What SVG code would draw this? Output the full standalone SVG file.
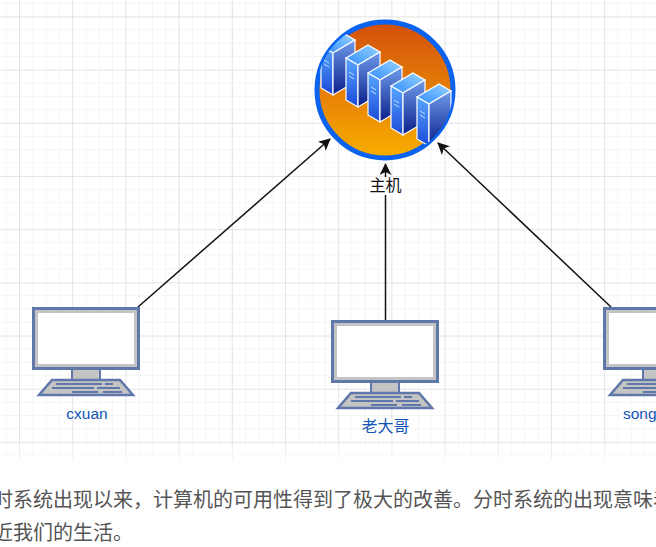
<svg xmlns="http://www.w3.org/2000/svg" xmlns:xlink="http://www.w3.org/1999/xlink" width="656" height="547" viewBox="0 0 656 547">
<style>
.lb{font-family:"Liberation Sans",Arial,sans-serif;font-size:15.5px;fill:#0f55b5;text-anchor:middle}
.cj{font-family:"Noto Sans CJK SC","Liberation Sans",sans-serif}
.body{font-family:"Noto Sans CJK SC",sans-serif;font-size:20px;fill:#555}
.edge{fill:none;stroke:#111;stroke-width:1.5}
</style>
<defs>
<pattern id="gm" width="13.3" height="13.3" patternUnits="userSpaceOnUse" x="5.7" y="2.7"><path d="M13.3 0H0V13.3" fill="none" stroke="#ececec" stroke-width="1"/></pattern>
<pattern id="gM" width="53.2" height="53.2" patternUnits="userSpaceOnUse" x="19" y="16.5"><path d="M53.2 0H0V53.2" fill="none" stroke="#d3d3d3" stroke-width="1"/></pattern>
<linearGradient id="fade" x1="0" y1="0" x2="0" y2="1"><stop offset="0" stop-color="#fff" stop-opacity="0"/><stop offset="1" stop-color="#fff"/></linearGradient>
<linearGradient id="ball" x1="0" y1="0" x2="0" y2="1"><stop offset="0" stop-color="#d24f0c"/><stop offset="1" stop-color="#f9ae00"/></linearGradient>
<linearGradient id="fr" x1="0" y1="0" x2="0" y2="1"><stop offset="0" stop-color="#58a6ff"/><stop offset="1" stop-color="#1b49d8"/></linearGradient>
<linearGradient id="sd" x1="0" y1="0" x2="0" y2="1"><stop offset="0" stop-color="#6f9bea"/><stop offset="1" stop-color="#0a1f8a"/></linearGradient>
<linearGradient id="tp" x1="0" y1="1" x2="1" y2="0"><stop offset="0" stop-color="#2f8cff"/><stop offset="1" stop-color="#9bd4ff"/></linearGradient>
<marker id="ah" markerWidth="13" markerHeight="12" refX="11" refY="6" orient="auto" markerUnits="userSpaceOnUse"><path d="M0 0L12 6L0 12L3 6Z" fill="#111"/></marker>
<clipPath id="cc"><circle cx="385" cy="90" r="68"/></clipPath>
<g id="srv">
<path d="M0 13L22 0L34 7L12 20Z" fill="url(#tp)" stroke="#fff" stroke-width="1.2"/>
<path d="M0 13L12 20V62L0 55Z" fill="url(#fr)" stroke="#fff" stroke-width="1.2"/>
<path d="M12 20L34 7V49L12 62Z" fill="url(#sd)" stroke="#fff" stroke-width="1.2"/>
<path d="M3 27L8 30M3 31L8 34" stroke="#bfe0ff" stroke-width="1"/>
</g>
<g id="pc">
<rect x="1.5" y="1.5" width="105" height="60" fill="#c4c4c4" stroke="#6077aa" stroke-width="3"/>
<rect x="6" y="6" width="96" height="51" fill="#fff"/>
<rect x="40" y="62" width="28" height="11" fill="#c4c4c4" stroke="#6077aa" stroke-width="2"/>
<path d="M20 73H88L101 88H7Z" fill="#c4c4c4" stroke="#6077aa" stroke-width="2.5"/>
<path d="M24 77H70M73 77H81M20 81H62M65 81H88M40 85H66M71 85H90" stroke="#6077aa" stroke-width="2.2" fill="none"/>
</g>
</defs>
<rect width="656" height="547" fill="#fff"/>
<g id="grid">
<rect width="656" height="460" fill="url(#gm)"/>
<rect width="656" height="460" fill="url(#gM)"/>
<rect y="436" width="656" height="24" fill="url(#fade)" opacity=".6"/>
</g>
<g id="connectors">
<path class="edge" d="M138 307L330 139" marker-end="url(#ah)"/>
<path class="edge" d="M385.500 321V164" marker-end="url(#ah)"/>
<path class="edge" d="M611 307L438 143" marker-end="url(#ah)"/>
</g>
<g id="host">
<circle cx="385" cy="90" r="68" fill="url(#ball)" stroke="#0b62ef" stroke-width="5"/>
<g clip-path="url(#cc)">
<use xlink:href="#srv" x="321" y="33"/>
<use xlink:href="#srv" x="346" y="45"/>
<use xlink:href="#srv" x="368" y="60"/>
<use xlink:href="#srv" x="391" y="73"/>
<use xlink:href="#srv" x="417" y="84"/>
</g>
<rect x="370" y="177" width="31" height="18" fill="#fff"/>
<text x="385.500" y="191" class="cj" font-size="16" fill="#111" text-anchor="middle">主机</text>
</g>
<g id="cxuan"><use xlink:href="#pc" x="32" y="307"/><text x="87" y="419" class="lb">cxuan</text></g>
<g id="laodage"><use xlink:href="#pc" x="331" y="320"/><text x="385.500" y="432" class="lb cj" style="font-size:16px">老大哥</text></g>
<g id="song"><use xlink:href="#pc" x="603" y="307"/><text x="623" y="419" class="lb" style="text-anchor:start">song</text></g>
<text class="body" x="-7" y="507">时系统出现以来，计算机的可用性得到了极大的改善。分时系统的出现意味着</text>
<text class="body" x="-7" y="540">近我们的生活。</text>
</svg>
